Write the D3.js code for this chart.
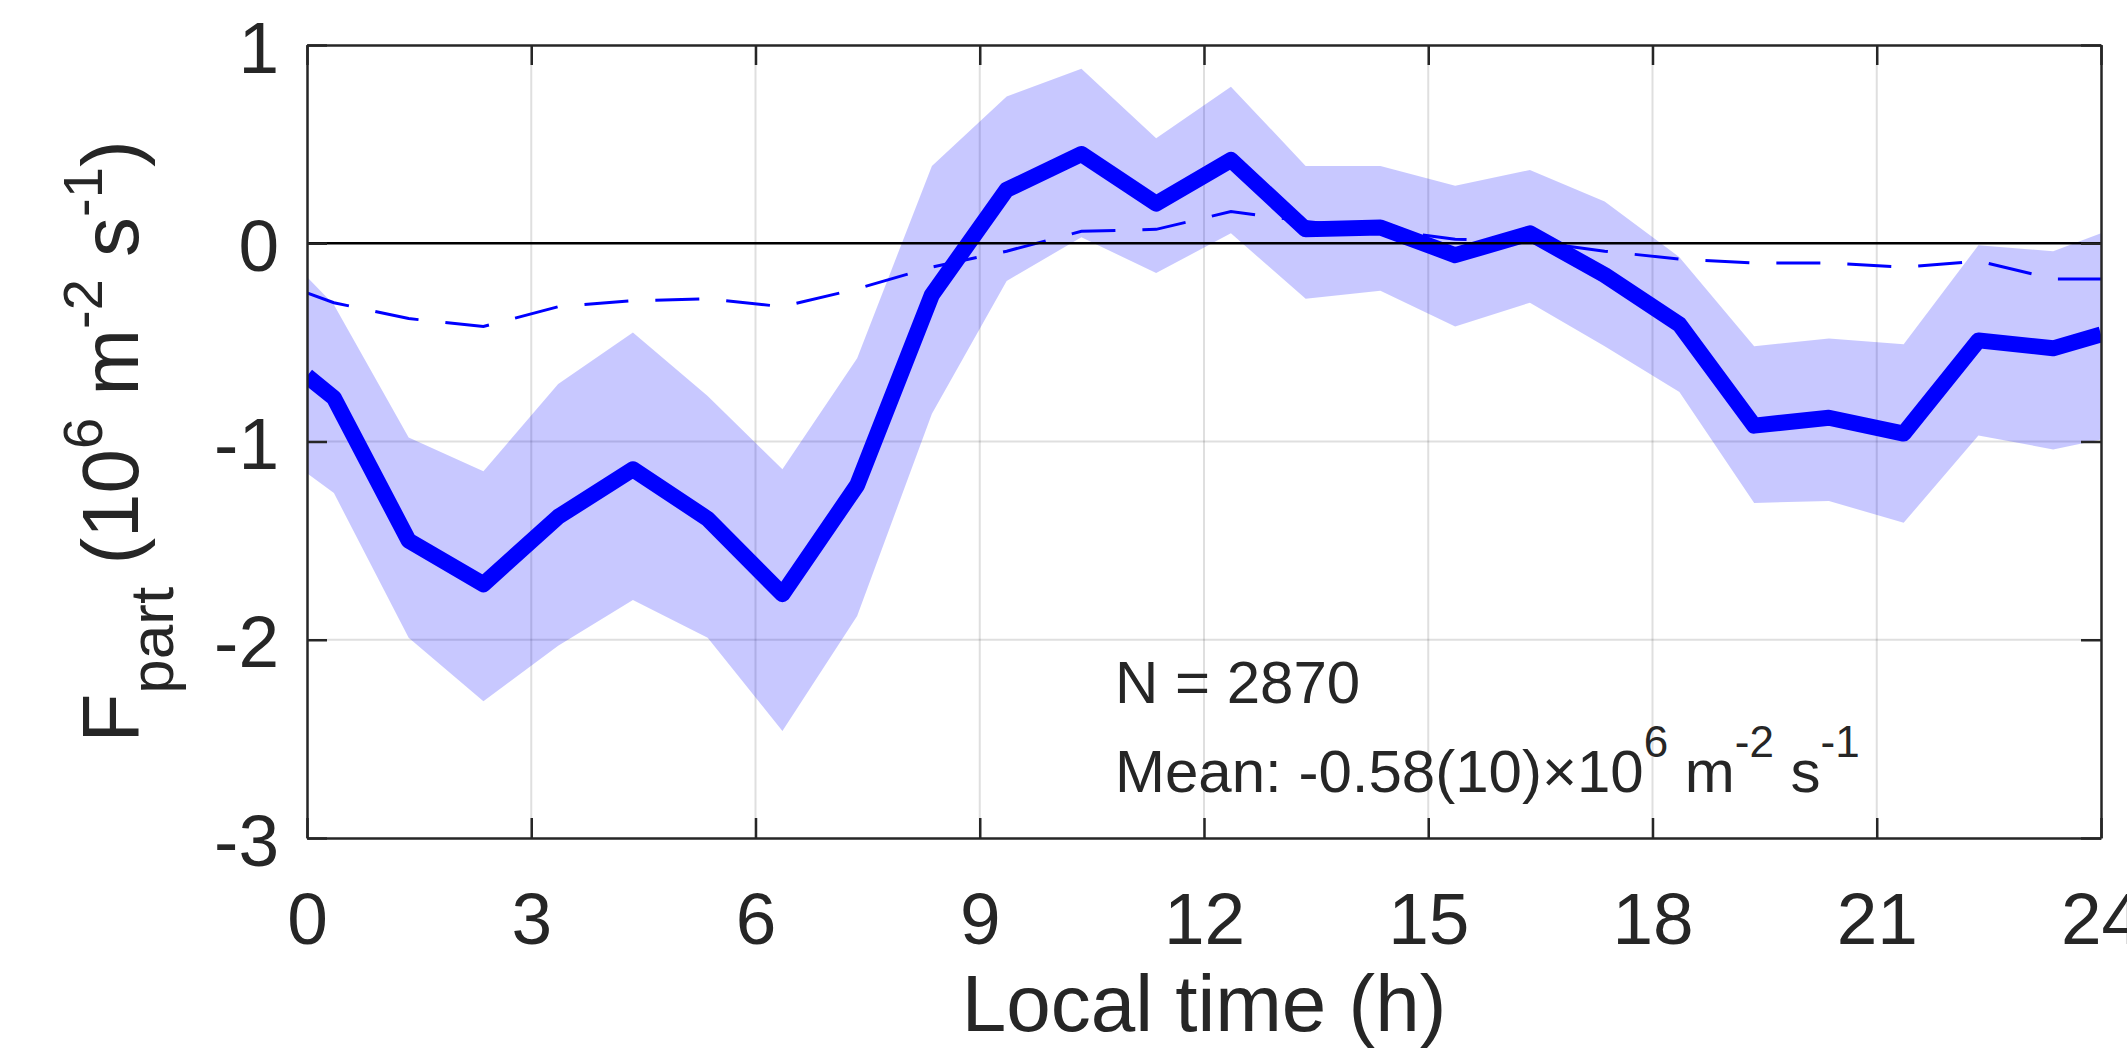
<!DOCTYPE html>
<html>
<head>
<meta charset="utf-8">
<script src="https://cdn.jsdelivr.net/npm/d3@7"></script>
<style>
  html, body { margin: 0; padding: 0; background: #fff; }
  svg { display: block; }
  text { font-family: "Liberation Sans", Arial, Helvetica, sans-serif; fill: #262626; }
</style>
</head>
<body>
<svg id="chart" width="2127" height="1051"></svg>
<script>
// ---- data ----
const hours = [0, 0.36, 1.36, 2.36, 3.36, 4.36, 5.36, 6.36, 7.36, 8.36, 9.36, 10.36, 11.36,
               12.36, 13.36, 14.36, 15.36, 16.36, 17.36, 18.36, 19.36, 20.36, 21.36, 22.36, 23.36, 24];
const meanFlux = [-0.67, -0.78, -1.50, -1.72, -1.38, -1.14, -1.39, -1.77, -1.22, -0.26, 0.27, 0.45, 0.20,
                  0.42, 0.07, 0.08, -0.06, 0.05, -0.16, -0.41, -0.92, -0.88, -0.96, -0.49, -0.53, -0.46];
const upperBound = [-0.17, -0.31, -0.98, -1.15, -0.71, -0.45, -0.77, -1.14, -0.58, 0.39, 0.74, 0.88, 0.53,
                    0.79, 0.39, 0.39, 0.29, 0.37, 0.21, -0.07, -0.52, -0.48, -0.51, -0.01, -0.04, 0.05];
const lowerBound = [-1.16, -1.26, -1.99, -2.31, -2.03, -1.80, -1.99, -2.46, -1.88, -0.86, -0.19, 0.03, -0.15,
                    0.05, -0.28, -0.24, -0.42, -0.30, -0.52, -0.75, -1.31, -1.30, -1.41, -0.97, -1.04, -0.99];
const dashedFlux = [-0.25, -0.30, -0.38, -0.42, -0.32, -0.29, -0.28, -0.32, -0.23, -0.12, -0.04, 0.06, 0.07,
                    0.16, 0.11, 0.07, 0.02, 0.01, -0.04, -0.08, -0.10, -0.10, -0.12, -0.09, -0.18, -0.18];
const xTicks = [0, 3, 6, 9, 12, 15, 18, 21, 24];
const yTicks = [1, 0, -1, -2, -3];
const xLabel = "Local time (h)";
const annotationN = "N = 2870";

// ---- layout ----
const svg = d3.select("#chart");
const L = 307, R = 2101, T = 45, B = 838;
const x = d3.scaleLinear().domain([0, 24]).range([L, R]);
const y = d3.scaleLinear().domain([-3, 1]).range([B, T]);
const axisColor = "#262626";

svg.append("rect").attr("width", 2127).attr("height", 1051).attr("fill", "#fff");

svg.append("defs").append("clipPath").attr("id", "plotclip")
  .append("rect").attr("x", L).attr("y", T).attr("width", R - L).attr("height", B - T);

// grid
const grid = svg.append("g");
grid.selectAll("line.gx").data(xTicks.slice(1, -1)).join("line")
  .attr("x1", d => x(d)).attr("x2", d => x(d)).attr("y1", T).attr("y2", B)
  .attr("stroke", "rgba(38,38,38,0.15)").attr("stroke-width", 2);
grid.selectAll("line.gy").data(yTicks.slice(1, -1)).join("line")
  .attr("y1", d => y(d)).attr("y2", d => y(d)).attr("x1", L).attr("x2", R)
  .attr("stroke", "rgba(38,38,38,0.15)").attr("stroke-width", 2);

const plot = svg.append("g").attr("clip-path", "url(#plotclip)");
const idx = d3.range(hours.length);

// band
plot.append("path")
  .attr("d", d3.area().x(i => x(hours[i])).y0(i => y(lowerBound[i])).y1(i => y(upperBound[i]))(idx))
  .attr("fill", "#0000ff").attr("fill-opacity", 0.215);

// dashed
plot.append("path")
  .attr("d", d3.line().x(i => x(hours[i])).y(i => y(dashedFlux[i]))(idx))
  .attr("fill", "none").attr("stroke", "#0000ff").attr("stroke-width", 3)
  .attr("stroke-dasharray", "44,27");

// main
plot.append("path")
  .attr("d", d3.line().x(i => x(hours[i])).y(i => y(meanFlux[i]))(idx))
  .attr("fill", "none").attr("stroke", "#0000ff").attr("stroke-width", 16)
  .attr("stroke-linejoin", "round");

// zero line
svg.append("line").attr("x1", L).attr("x2", R).attr("y1", y(0)).attr("y2", y(0))
  .attr("stroke", "#000").attr("stroke-width", 2.5);

// axes (bottom + left with labels, top + right ticks only)
const fmt = d => String(d);
const gx = svg.append("g").attr("transform", `translate(0,${B})`)
  .call(d3.axisBottom(x).tickValues(xTicks).tickFormat(fmt).tickSizeInner(-20).tickSizeOuter(0).tickPadding(0));
const gy = svg.append("g").attr("transform", `translate(${L},0)`)
  .call(d3.axisLeft(y).tickValues(yTicks).tickFormat(fmt).tickSizeInner(-20).tickSizeOuter(0).tickPadding(0));
const gxt = svg.append("g").attr("transform", `translate(0,${T})`)
  .call(d3.axisTop(x).tickValues(xTicks).tickFormat("").tickSizeInner(-20).tickSizeOuter(0));
const gyr = svg.append("g").attr("transform", `translate(${R},0)`)
  .call(d3.axisRight(y).tickValues(yTicks).tickFormat("").tickSizeInner(-20).tickSizeOuter(0));
[gx, gy, gxt, gyr].forEach(g => {
  g.select(".domain").attr("stroke", axisColor).attr("stroke-width", 2.5);
  g.selectAll(".tick line").attr("stroke", axisColor).attr("stroke-width", 2.5);
  g.attr("font-family", null).attr("font-size", null);
});
gx.selectAll(".tick text").attr("y", 106).attr("dy", null)
  .style("font-size", "73px").attr("fill", axisColor);
gy.selectAll(".tick text").attr("x", -28).attr("dy", "27px")
  .style("font-size", "73px").attr("fill", axisColor).attr("text-anchor", "end");

// x label
svg.append("text").attr("x", (L + R) / 2).attr("y", 1031).attr("text-anchor", "middle")
  .style("font-size", "80px").text(xLabel);

// rich text helper
function rich(sel, parts) {
  let prev = 0;
  parts.forEach(p => {
    const off = p.off || 0;
    sel.append("tspan").attr("dy", off - prev).style("font-size", p.size + "px").text(p.t);
    prev = off;
  });
}

// y label
const yl = svg.append("text").attr("transform", `translate(138,${(T + B) / 2}) rotate(-90)`)
  .attr("text-anchor", "middle");
rich(yl, [
  { t: "F", size: 80 },
  { t: "part", size: 62, off: 35 },
  { t: " (10", size: 80 },
  { t: "6", size: 56, off: -36 },
  { t: " m", size: 80 },
  { t: "-2", size: 56, off: -36 },
  { t: " s", size: 80 },
  { t: "-1", size: 56, off: -36 },
  { t: ")", size: 80 }
]);

// annotation
svg.append("text").attr("x", 1115).attr("y", 703).style("font-size", "60px").text(annotationN);
const mean = svg.append("text").attr("x", 1115).attr("y", 792);
rich(mean, [
  { t: "Mean: -0.58(10)\u00d710", size: 60 },
  { t: "6", size: 44, off: -35 },
  { t: " m", size: 60 },
  { t: "-2", size: 44, off: -35 },
  { t: " s", size: 60 },
  { t: "-1", size: 44, off: -35 }
]);
</script>
</body>
</html>
